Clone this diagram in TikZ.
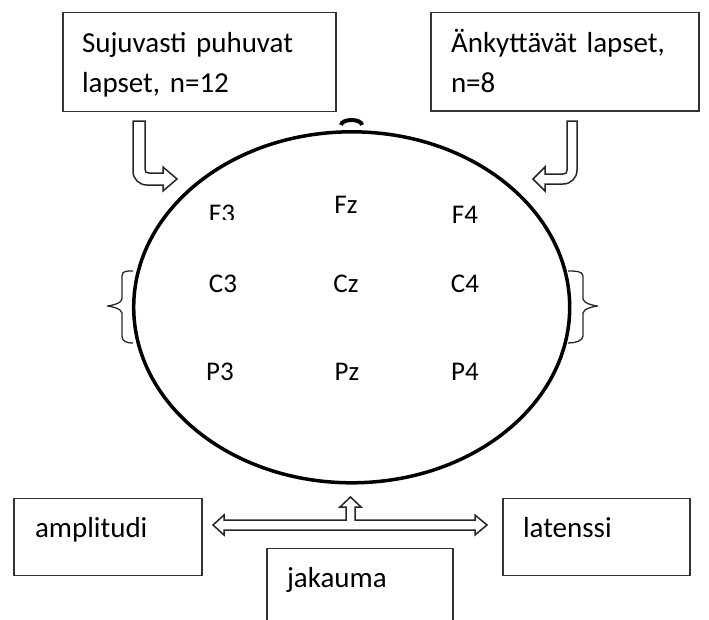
\documentclass[tikz,border=0pt]{standalone}
\usepackage{fontspec}
\setmainfont{Carlito}
\usetikzlibrary{shapes.geometric}
\begin{document}
\begin{tikzpicture}[x=1pt,y=-1pt,
  box/.style={draw=black!80, line width=1.5pt, anchor=north west, align=left, inner ysep=0pt, outer sep=0pt, font=\fontsize{29}{40}\selectfont},
  elec/.style={anchor=base, inner sep=0pt, font=\fontsize{27}{30}\selectfont},
  blockarr/.style={draw=black!85, line width=1.5pt, line join=miter},
  brc/.style={draw=black!85, line width=1.3pt}]

\clip (0,0) rectangle (709,619);

\node[box, text width=235pt, inner xsep=19pt, text height=39.5pt, text depth=59.5pt] (fluent) at (63,12.5) {Sujuvasti puhuvat\\lapset, n=12};

\node[box, text width=228pt, inner xsep=20pt, text height=39.5pt, text depth=59pt] (stutter) at (431,12.5) {Änkyttävät lapset,\\n=8};

% bent arrows into the head
\draw[blockarr] (133,121) -- (145,121) -- (145,169) .. controls (145,172) and (146,173) .. (149,173) -- (163,173) -- (163,167) -- (177,179) -- (163,191) -- (163,185) -- (147,185) .. controls (139,185) and (133,179) .. (133,171) -- cycle;
\draw[blockarr] (567,121) -- (577,121) -- (577,170) .. controls (577,178) and (571,184) .. (563,184) -- (545,184) -- (545,191) -- (533,179) -- (545,167) -- (545,174) -- (563,174) .. controls (566,174) and (567,173) .. (567,170) -- cycle;

\node[draw, ellipse, line width=3.5pt, minimum width=436pt, minimum height=351pt, inner sep=0pt] (head) at (351.7,307.3) {};
\draw[line width=4pt] (341,125) arc[start angle=180, end angle=360, x radius=10.5, y radius=5];

% brackets beside the head
\coordinate (lbr) at (133,307);
\coordinate (rbr) at (568,307);
\draw[brc] ([yshift=36pt]lbr) .. controls +(-7,0) and +(0,-5) .. ++(-11,5) -- ++(0,23) .. controls +(0,4) and +(4,0) .. ++(-15,7) .. controls +(4,0) and +(0,-4) .. ++(15,7) -- ++(0,23) .. controls +(0,5) and +(-7,0) .. (lbr |- 0,343);
\draw[brc] ([yshift=36pt]rbr) .. controls +(7,0) and +(0,-5) .. ++(15,5) -- ++(0,23) .. controls +(0,4) and +(-4,0) .. ++(15,7) .. controls +(-4,0) and +(0,-4) .. ++(-15,7) -- ++(0,23) .. controls +(0,5) and +(7,0) .. (rbr |- 0,343);

% electrodes
\begin{scope}
\clip (190,190) rectangle (260,219);
\node[elec] (F3) at (222,222.5) {F3};
\end{scope}
\node[elec] (Fz) at (346,213) {Fz};
\node[elec] (F4) at (465,223) {F4};

\node[elec] (C3) at (223,292) {C3};
\node[elec] (Cz) at (346,292) {Cz};
\node[elec] (C4) at (465,292) {C4};

\node[elec] (P3) at (220,380) {P3};
\node[elec] (Pz) at (347,380) {Pz};
\node[elec] (P4) at (465,380) {P4};

% measures
\node[box, text width=146pt, inner xsep=21pt, text height=38.5pt, text depth=38.5pt] (amp) at (14,498.5) {amplitudi};
\node[box, text width=147pt, inner xsep=20pt, text height=38.5pt, text depth=38.5pt] (lat) at (503,498.5) {latenssi};
\node[box, text width=146pt, inner xsep=20pt, text height=38.5pt, text depth=60pt] (dist) at (267,548.5) {jakauma};

\draw[blockarr] (213,525) -- (224,515) -- (224,520) -- (346,520) -- (346,507) -- (340,507) -- (350.5,497) -- (361,507) -- (355,507) -- (355,520) -- (475,520) -- (475,515) -- (487,525) -- (475,535) -- (475,530) -- (224,530) -- (224,535) -- cycle;

\end{tikzpicture}
\end{document}
